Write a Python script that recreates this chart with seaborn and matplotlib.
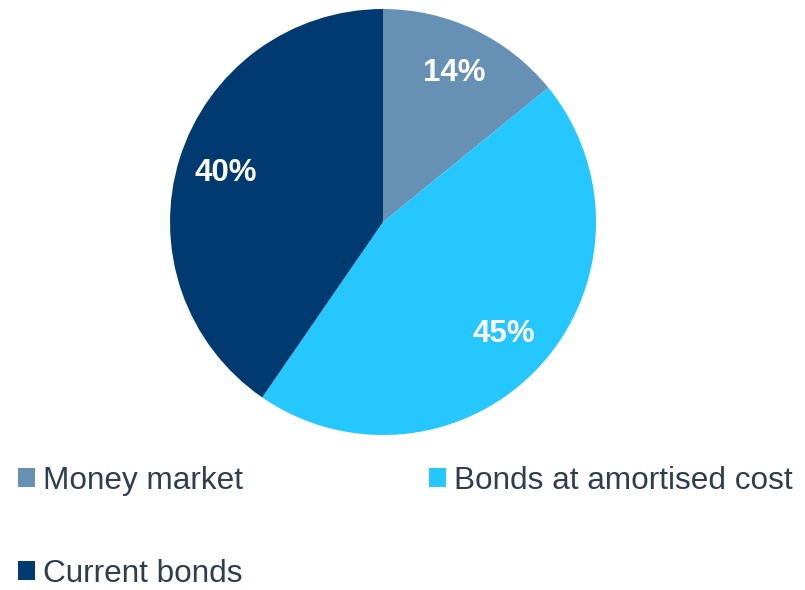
import matplotlib
matplotlib.use("Agg")
import matplotlib.pyplot as plt
import seaborn as sns
import numpy as np
from matplotlib.patches import Patch

categories = ["Money market", "Bonds at amortised cost", "Current bonds"]
values = [14, 45, 40]
pct_labels = ["14%", "45%", "40%"]
colors = ["#6691B5", "#26C7FF", "#003A70"]

sns.set_theme(style="white")
plt.rcParams["font.family"] = ["Liberation Sans", "DejaVu Sans"]

W, H = 805, 590
fig = plt.figure(figsize=(W / 100, H / 100), dpi=100)
cx, cy, r = 383, 222, 213
ax = fig.add_axes([(cx - r) / W, 1 - (cy + r) / H, 2 * r / W, 2 * r / H])

wedges, texts = ax.pie(values, colors=colors, startangle=90, counterclock=False,
                       radius=1, wedgeprops=dict(linewidth=0))
total = sum(values)
cum = 0
for v, lab in zip(values, pct_labels):
    mid = 90 - 360 * (cum + v / 2) / total
    cum += v
    ax.text(0.775 * np.cos(np.radians(mid)), 0.775 * np.sin(np.radians(mid)), lab,
            ha="center", va="center", color="white", fontsize=22.5, fontweight="bold")
ax.set_xlim(-1, 1)
ax.set_ylim(-1, 1)
ax.set_aspect("equal")
ax.axis("off")

# legend laid out row-wise: column 1 = Money market, Current bonds; column 2 = Bonds
order = [0, 2, 1]
handles = [Patch(facecolor=colors[i], edgecolor="none") for i in order]
labels = [categories[i] for i in order]
leg = fig.legend(handles, labels, loc="upper left",
                 bbox_to_anchor=(18 / W, 1 - 466 / H), ncol=2, frameon=False,
                 fontsize=22.7, labelcolor="#2E3E4F",
                 handlelength=0.54, handleheight=0.54, handletextpad=0.25,
                 labelspacing=2.0, columnspacing=5.9, borderpad=0, borderaxespad=0)

fig.savefig("out.png", dpi=100)
